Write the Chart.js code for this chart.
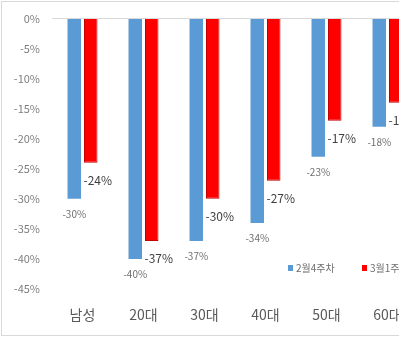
<!DOCTYPE html>
<html>
<head>
<meta charset="utf-8">
<script src="https://cdn.jsdelivr.net/npm/chart.js@4/dist/chart.umd.min.js"></script>
<style>
  html, body { margin: 0; padding: 0; background: #ffffff; overflow: hidden; width: 399px; height: 342px; }
  #frame { position: absolute; left: 1px; top: 1px; width: 470px; height: 335px; border: 1px solid #d9d9d9; box-sizing: border-box; }
  #wrap { position: absolute; left: 0; top: 0; width: 440px; height: 342px; }
</style>
</head>
<body>
<div id="frame"></div>
<div id="wrap"><canvas id="c" width="440" height="342"></canvas></div>
<script>
const categories = ['남성', '20대', '30대', '40대', '50대', '60대'];
const seriesNames = ['2월4주차', '3월1주차'];
const week2Feb = [-30, -40, -37, -34, -23, -18];
const week1Mar = [-24, -37, -30, -27, -17, -14];
const yTicks = [0, -5, -10, -15, -20, -25, -30, -35, -40, -45];

const FONT = '"Noto Sans CJK KR", "Noto Sans", sans-serif';

const labelPlugin = {
  id: 'barLabels',
  afterDatasetsDraw(chart) {
    const ctx = chart.ctx;
    ctx.save();
    ctx.textAlign = 'center';
    ctx.textBaseline = 'middle';
    chart.data.datasets.forEach((ds, di) => {
      const meta = chart.getDatasetMeta(di);
      meta.data.forEach((bar, i) => {
        const txt = ds.data[i] + '%';
        if (di === 0) {
          ctx.font = '10px ' + FONT;
          ctx.fillStyle = '#6f6f6f';
          ctx.fillText(txt, bar.x, bar.y + 15);
        } else {
          ctx.font = '12px ' + FONT;
          ctx.fillStyle = '#3f3f3f';
          ctx.fillText(txt, bar.x + 7, bar.y + 18);
        }
      });
    });
    ctx.restore();
  }
};

const legendPlugin = {
  id: 'innerLegend',
  afterDraw(chart) {
    const ctx = chart.ctx;
    const area = chart.chartArea;
    const y = chart.scales.y.getPixelForValue(-41.5);
    let x = area.left + 236;
    ctx.save();
    ctx.font = '10px ' + FONT;
    ctx.textBaseline = 'middle';
    ctx.textAlign = 'left';
    chart.data.datasets.forEach((ds) => {
      ctx.fillStyle = ds.backgroundColor;
      ctx.fillRect(x, y - 3, 5, 6);
      ctx.fillStyle = '#6f6f6f';
      ctx.fillText(ds.label, x + 8, y);
      x += 74;
    });
    ctx.restore();
  }
};

new Chart(document.getElementById('c'), {
  type: 'bar',
  data: {
    labels: categories,
    datasets: [
      { label: seriesNames[0], data: week2Feb, backgroundColor: '#5b9bd5', borderWidth: 0 },
      { label: seriesNames[1], data: week1Mar, backgroundColor: '#ff0000', borderColor: '#c00000', borderWidth: 1 }
    ]
  },
  options: {
    responsive: false,
    animation: false,
    devicePixelRatio: 1,
    layout: { padding: { top: 17, right: 22, left: 0, bottom: 0 } },
    datasets: { bar: { categoryPercentage: 0.54, barPercentage: 0.82 } },
    plugins: { legend: { display: false }, tooltip: { enabled: false } },
    scales: {
      x: {
        grid: { display: false, drawTicks: false },
        border: { display: false },
        ticks: { color: '#595959', font: { family: FONT, size: 14 }, padding: 17, maxRotation: 0 },
        afterFit(scale) { scale.height = 53; }
      },
      y: {
        min: -45, max: 0,
        afterBuildTicks(scale) { scale.ticks = yTicks.map(v => ({ value: v })); },
        grid: {
          drawTicks: false,
          color: (c) => (c.tick && c.tick.value === 0 ? '#d9d9d9' : 'rgba(0,0,0,0)')
        },
        border: { display: false },
        ticks: {
          color: '#7f7f7f',
          font: { family: FONT, size: 11 },
          padding: 12,
          callback: (v) => v + '%'
        },
        afterFit(scale) { scale.width = 52; }
      }
    }
  },
  plugins: [labelPlugin, legendPlugin]
});
</script>
</body>
</html>
